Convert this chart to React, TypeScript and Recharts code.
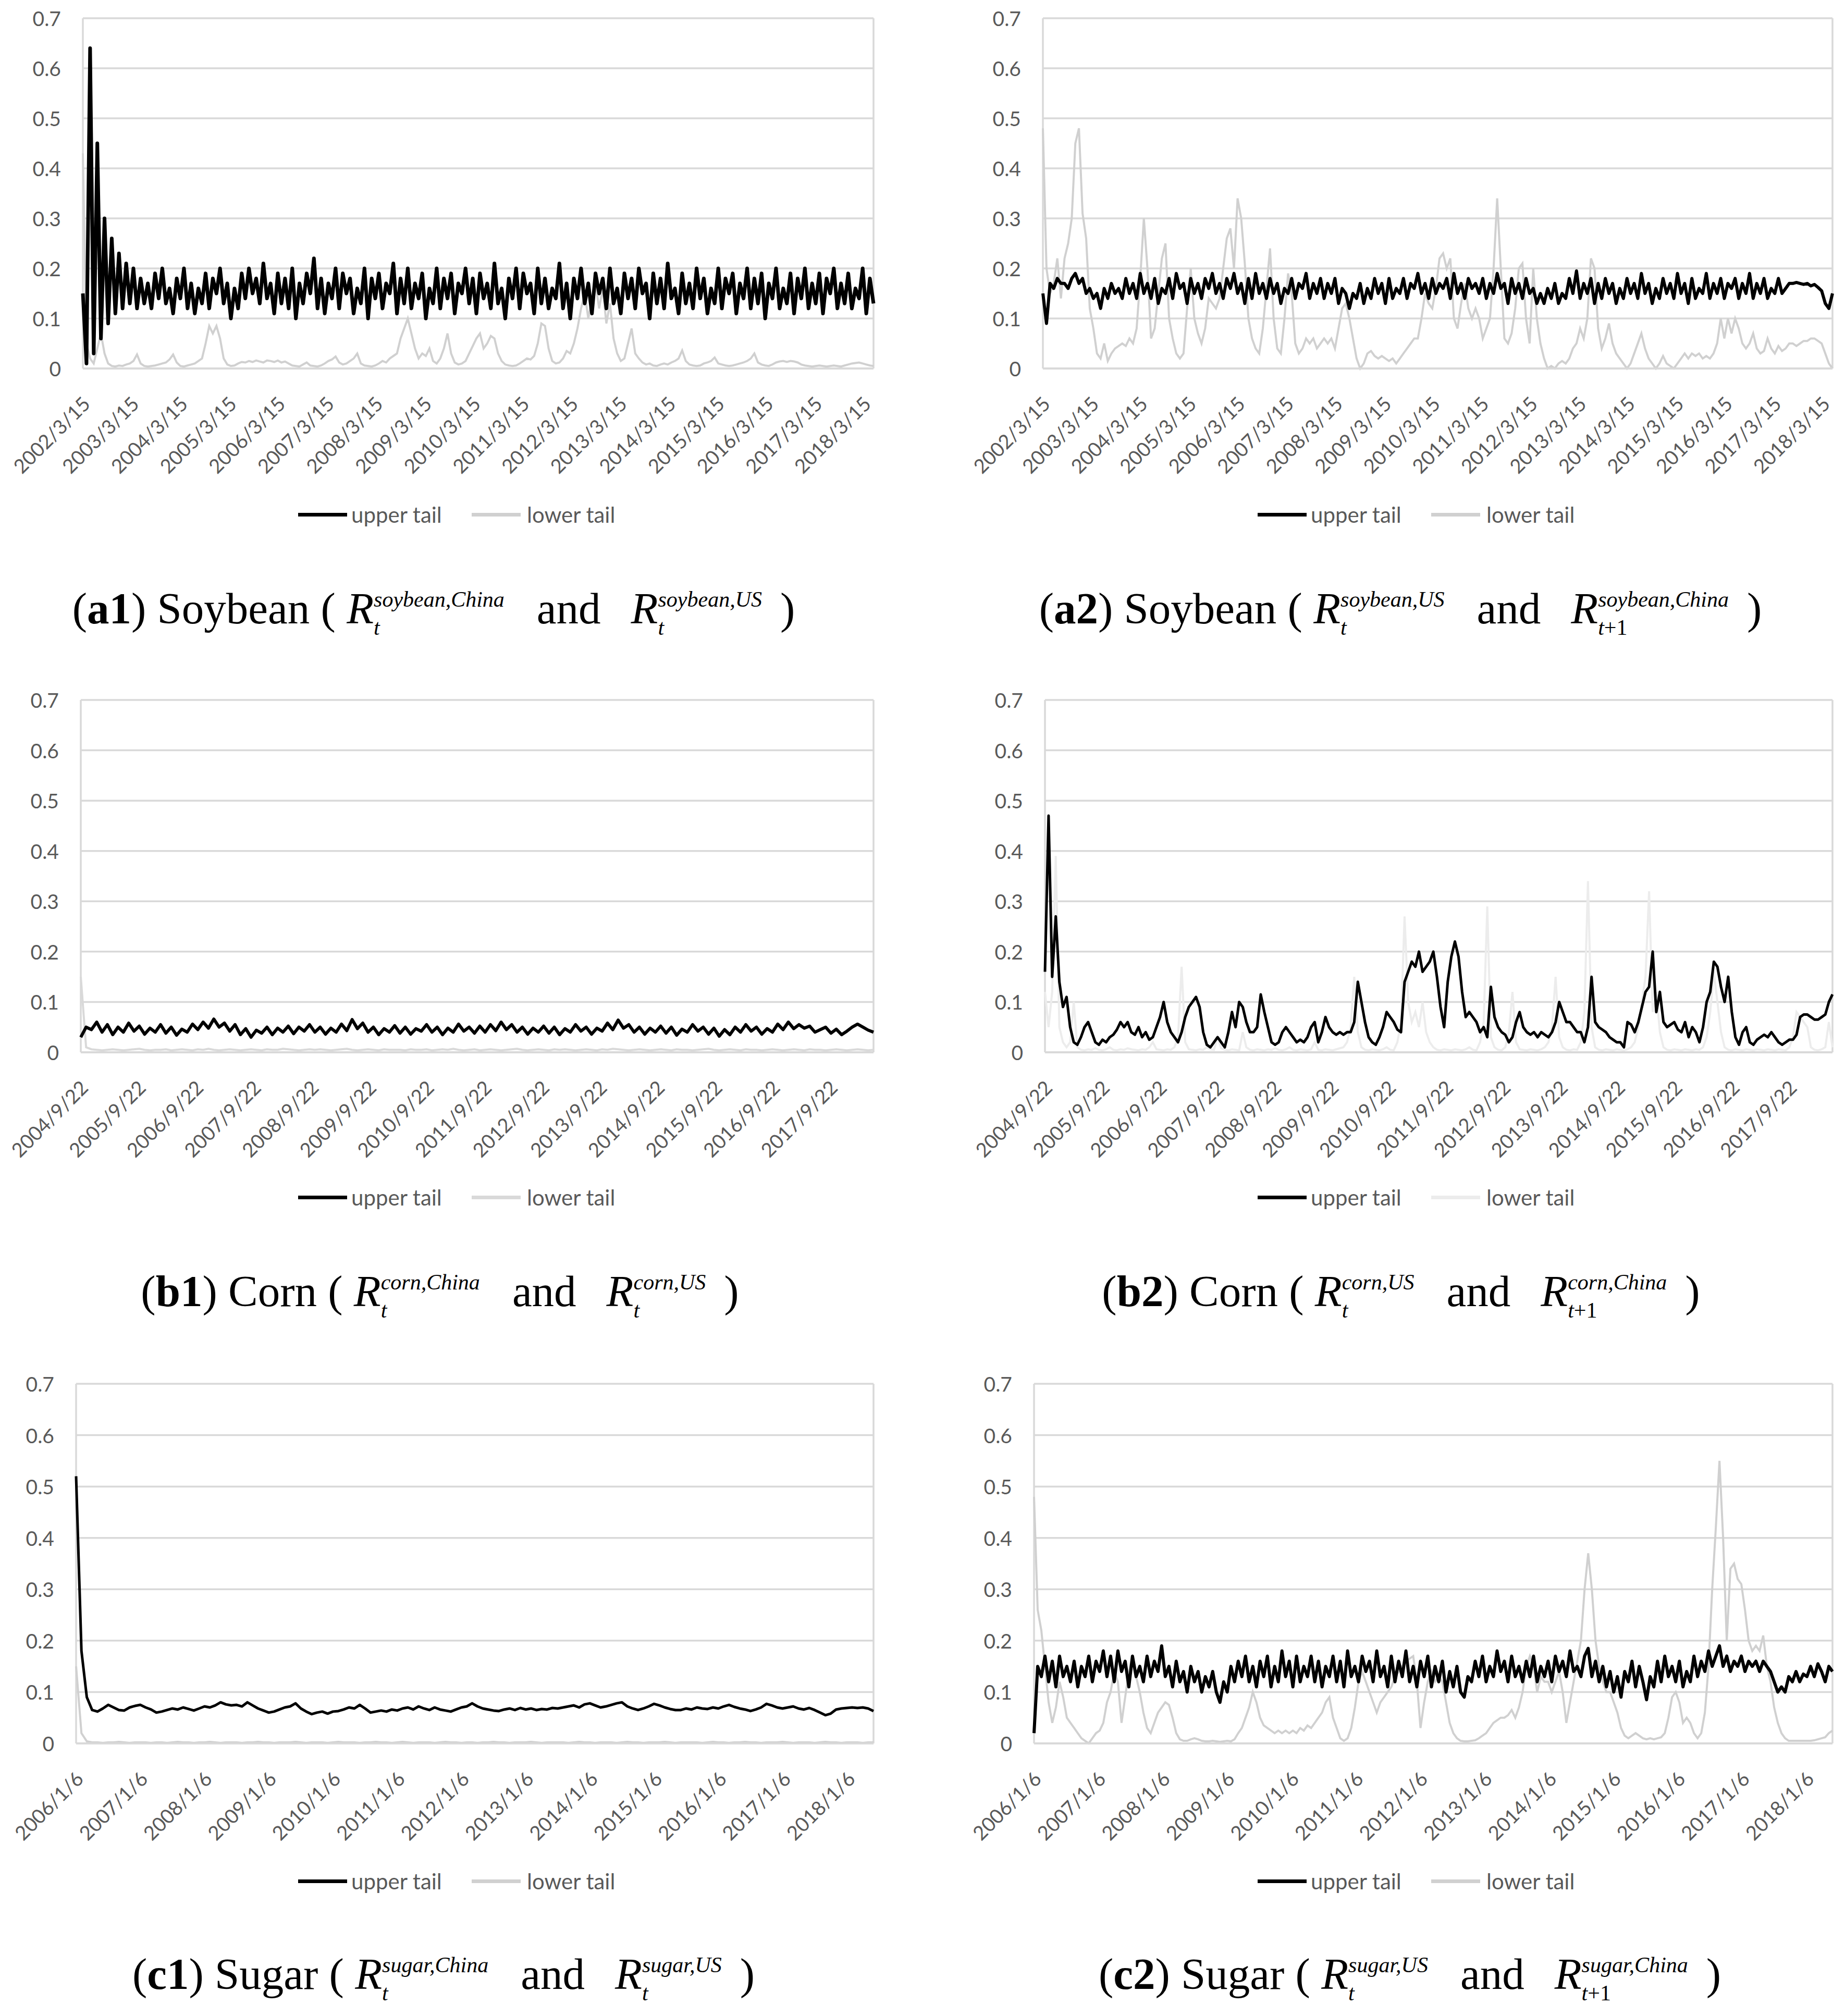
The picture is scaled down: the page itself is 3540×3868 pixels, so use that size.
import { LineChart, Line, XAxis, YAxis, CartesianGrid } from 'recharts'
import type { ReactNode } from 'react'

/* Six tail-dependence panels (upper / lower tail), China vs US futures.
   Values read off the reference by eye, sampled evenly along each date axis. */

const A_DATES = [
  '2002/3/15', '2003/3/15', '2004/3/15', '2005/3/15', '2006/3/15', '2007/3/15',
  '2008/3/15', '2009/3/15', '2010/3/15', '2011/3/15', '2012/3/15', '2013/3/15',
  '2014/3/15', '2015/3/15', '2016/3/15', '2017/3/15', '2018/3/15',
]
const B_DATES = [
  '2004/9/22', '2005/9/22', '2006/9/22', '2007/9/22', '2008/9/22', '2009/9/22', '2010/9/22',
  '2011/9/22', '2012/9/22', '2013/9/22', '2014/9/22', '2015/9/22', '2016/9/22', '2017/9/22',
]
const C_DATES = [
  '2006/1/6', '2007/1/6', '2008/1/6', '2009/1/6', '2010/1/6', '2011/1/6', '2012/1/6',
  '2013/1/6', '2014/1/6', '2015/1/6', '2016/1/6', '2017/1/6', '2018/1/6',
]
// years covered by each row's sample (first label sits at the left edge)
const A_SPAN = 16.2
const B_SPAN = 13.75
const C_SPAN = 12.4

const Y_TICKS = [0, 0.1, 0.2, 0.3, 0.4, 0.5, 0.6, 0.7]
const SERIES_NAMES = ['upper tail', 'lower tail']

// (a1) soybean China -> US
const A1_UPPER = [
  0.15, 0.01, 0.64, 0.03, 0.45, 0.06, 0.3, 0.09, 0.26, 0.11, 0.23, 0.12, 0.21, 0.13, 0.2, 0.12,
  0.18, 0.13, 0.17, 0.12, 0.19, 0.14, 0.2, 0.13, 0.16, 0.11, 0.18, 0.14, 0.2, 0.12, 0.17,
  0.11, 0.16, 0.13, 0.19, 0.12, 0.18, 0.15, 0.2, 0.13, 0.17, 0.1, 0.16, 0.12, 0.19, 0.14,
  0.2, 0.15, 0.18, 0.13, 0.21, 0.14, 0.17, 0.11, 0.19, 0.13, 0.18, 0.12, 0.2, 0.1, 0.17,
  0.13, 0.19, 0.15, 0.22, 0.12, 0.18, 0.11, 0.17, 0.14, 0.2, 0.12, 0.19, 0.15, 0.18, 0.11,
  0.16, 0.13, 0.2, 0.1, 0.18, 0.14, 0.19, 0.12, 0.17, 0.15, 0.21, 0.11, 0.18, 0.13, 0.2,
  0.12, 0.17, 0.14, 0.19, 0.1, 0.16, 0.13, 0.2, 0.12, 0.18, 0.14, 0.19, 0.11, 0.17, 0.15,
  0.2, 0.13, 0.18, 0.11, 0.19, 0.14, 0.17, 0.12, 0.21, 0.13, 0.16, 0.1, 0.18, 0.14, 0.2,
  0.12, 0.19, 0.15, 0.17, 0.11, 0.2, 0.13, 0.18, 0.12, 0.16, 0.14, 0.21, 0.12, 0.17, 0.1,
  0.18, 0.14, 0.2, 0.13, 0.17, 0.11, 0.19, 0.15, 0.18, 0.12, 0.2, 0.13, 0.16, 0.11, 0.19,
  0.14, 0.18, 0.12, 0.2, 0.15, 0.17, 0.1, 0.19, 0.13, 0.18, 0.12, 0.21, 0.14, 0.16, 0.11,
  0.19, 0.13, 0.17, 0.12, 0.2, 0.14, 0.18, 0.11, 0.16, 0.13, 0.2, 0.12, 0.18, 0.15, 0.19,
  0.11, 0.17, 0.14, 0.2, 0.12, 0.18, 0.13, 0.19, 0.1, 0.17, 0.14, 0.2, 0.12, 0.16, 0.13,
  0.19, 0.11, 0.18, 0.14, 0.2, 0.12, 0.17, 0.13, 0.19, 0.11, 0.18, 0.15, 0.2, 0.12, 0.17,
  0.13, 0.19, 0.12, 0.16, 0.14, 0.2, 0.11, 0.18, 0.13,
]
const A1_LOWER = [
  0.43, 0.05, 0.02, 0.01, 0.04, 0.07, 0.03, 0.01, 0.005, 0.004, 0.006, 0.005, 0.008, 0.01,
  0.015, 0.028, 0.01, 0.005, 0.004, 0.005, 0.006, 0.008, 0.01, 0.012, 0.018, 0.028, 0.012,
  0.005, 0.004, 0.006, 0.008, 0.01, 0.015, 0.02, 0.05, 0.085, 0.07, 0.085, 0.06, 0.02,
  0.008, 0.005, 0.006, 0.01, 0.013, 0.012, 0.015, 0.013, 0.016, 0.014, 0.012, 0.016, 0.015,
  0.013, 0.016, 0.012, 0.014, 0.01, 0.006, 0.005, 0.004, 0.008, 0.012, 0.006, 0.005, 0.004,
  0.006, 0.01, 0.015, 0.018, 0.024, 0.012, 0.008, 0.01, 0.015, 0.02, 0.03, 0.01, 0.006,
  0.005, 0.004, 0.006, 0.01, 0.015, 0.012, 0.02, 0.025, 0.03, 0.06, 0.08, 0.1, 0.07, 0.04,
  0.02, 0.03, 0.025, 0.04, 0.015, 0.01, 0.02, 0.04, 0.07, 0.03, 0.012, 0.008, 0.01, 0.015,
  0.03, 0.045, 0.06, 0.07, 0.04, 0.05, 0.065, 0.06, 0.03, 0.015, 0.008, 0.006, 0.005, 0.006,
  0.01, 0.015, 0.02, 0.018, 0.025, 0.05, 0.09, 0.085, 0.04, 0.015, 0.01, 0.012, 0.02, 0.035,
  0.03, 0.05, 0.08, 0.12, 0.15, 0.1, 0.14, 0.17, 0.12, 0.16, 0.09, 0.13, 0.06, 0.03, 0.015,
  0.02, 0.05, 0.08, 0.03, 0.02, 0.012, 0.008, 0.01, 0.006, 0.005, 0.008, 0.01, 0.008, 0.012,
  0.015, 0.02, 0.036, 0.015, 0.008, 0.006, 0.005, 0.006, 0.01, 0.012, 0.015, 0.022, 0.01,
  0.008, 0.006, 0.005, 0.006, 0.008, 0.01, 0.012, 0.015, 0.02, 0.03, 0.012, 0.008, 0.006,
  0.005, 0.008, 0.012, 0.014, 0.015, 0.013, 0.015, 0.014, 0.012, 0.008, 0.006, 0.005, 0.004,
  0.005, 0.006, 0.005, 0.004, 0.005, 0.006, 0.005, 0.004, 0.006, 0.008, 0.01, 0.011, 0.012,
  0.01, 0.008, 0.006, 0.005,
]

// (a2) soybean US -> China (t+1)
const A2_UPPER = [
  0.15, 0.09,
  0.17, 0.16, 0.18, 0.17, 0.17, 0.16, 0.18, 0.19, 0.17, 0.18, 0.15, 0.16, 0.14, 0.15, 0.12, 0.16,
  0.14, 0.17, 0.15, 0.16, 0.14, 0.18, 0.15, 0.17, 0.14, 0.19, 0.15, 0.17, 0.14, 0.18, 0.13,
  0.16, 0.15, 0.18, 0.14, 0.19, 0.16, 0.17, 0.13, 0.18, 0.15, 0.17, 0.14, 0.18, 0.16, 0.19,
  0.15, 0.17, 0.14, 0.18, 0.16, 0.19, 0.15, 0.17, 0.13, 0.18, 0.14, 0.19, 0.15, 0.17, 0.14,
  0.18, 0.15, 0.17, 0.13, 0.16, 0.15, 0.18, 0.14, 0.17, 0.16, 0.19, 0.14, 0.17, 0.15, 0.18,
  0.14, 0.17, 0.15, 0.18, 0.13, 0.16, 0.15, 0.12, 0.15, 0.14, 0.17, 0.13, 0.16, 0.14, 0.18,
  0.15, 0.17, 0.13, 0.18, 0.14, 0.16, 0.15, 0.18, 0.14, 0.17, 0.16, 0.19, 0.15, 0.17, 0.14,
  0.18, 0.15, 0.17, 0.16, 0.18, 0.14, 0.19, 0.15, 0.17, 0.14, 0.18, 0.16, 0.17, 0.15, 0.18,
  0.14, 0.17, 0.15, 0.19, 0.16, 0.17, 0.13, 0.18, 0.15, 0.17, 0.14, 0.18, 0.15, 0.16, 0.13,
  0.15, 0.13, 0.16, 0.14, 0.17, 0.13, 0.15, 0.14, 0.18, 0.15, 0.195, 0.14, 0.17, 0.15, 0.18,
  0.13, 0.17, 0.14, 0.18, 0.15, 0.17, 0.13, 0.16, 0.14, 0.18, 0.15, 0.17, 0.14, 0.19, 0.15,
  0.17, 0.13, 0.16, 0.14, 0.18, 0.15, 0.17, 0.14, 0.19, 0.15, 0.17, 0.13, 0.18, 0.14, 0.16,
  0.15, 0.19, 0.14, 0.17, 0.15, 0.18, 0.14, 0.17, 0.16, 0.18, 0.14, 0.17, 0.15, 0.19, 0.14,
  0.17, 0.15, 0.18, 0.14, 0.16, 0.15, 0.18, 0.15, 0.16,
  0.17, 0.17, 0.172, 0.17, 0.168, 0.17, 0.165, 0.168, 0.162, 0.155, 0.13, 0.12, 0.15,
]
const A2_LOWER = [
  0.48, 0.2, 0.15, 0.17, 0.22, 0.14, 0.22, 0.25, 0.3, 0.45, 0.48, 0.31, 0.26, 0.12, 0.08, 0.03,
  0.02, 0.05, 0.015, 0.03, 0.04, 0.045, 0.05, 0.045, 0.06, 0.05, 0.08, 0.18, 0.3, 0.2, 0.06, 0.08,
  0.15, 0.22, 0.25, 0.1, 0.06, 0.03, 0.02, 0.03, 0.12, 0.2, 0.1, 0.07, 0.05, 0.08, 0.14, 0.13,
  0.12, 0.14, 0.2, 0.26, 0.28, 0.2, 0.34, 0.3, 0.21, 0.1, 0.06, 0.04, 0.03, 0.08, 0.16, 0.24,
  0.1, 0.04, 0.03, 0.1, 0.19, 0.15, 0.05, 0.03, 0.04, 0.06, 0.05, 0.06, 0.04, 0.05, 0.06, 0.05,
  0.06, 0.04, 0.08, 0.12, 0.13, 0.1, 0.06, 0.02, 0.0, 0.01, 0.03, 0.035, 0.025, 0.02, 0.025, 0.02,
  0.015, 0.02, 0.01, 0.02, 0.03, 0.04, 0.05, 0.06, 0.06, 0.1, 0.15, 0.13, 0.12, 0.16, 0.22, 0.23,
  0.2, 0.22, 0.1, 0.08, 0.13, 0.17, 0.12, 0.1, 0.12, 0.1, 0.06, 0.08, 0.1, 0.2, 0.34, 0.2,
  0.06, 0.05, 0.07, 0.12, 0.2, 0.21, 0.1, 0.05, 0.2, 0.1, 0.05, 0.02, 0.0, 0.005, 0.0, 0.01,
  0.015, 0.01, 0.02, 0.04, 0.05, 0.08, 0.06, 0.1, 0.22, 0.2, 0.08, 0.04, 0.06, 0.09, 0.05, 0.03,
  0.02, 0.01, 0.0, 0.01, 0.03, 0.05, 0.07, 0.04, 0.02, 0.01, 0.0, 0.01, 0.025, 0.01, 0.005, 0.0,
  0.01, 0.02, 0.03, 0.02, 0.03, 0.025, 0.03, 0.02, 0.025, 0.02, 0.03, 0.05, 0.1, 0.06, 0.1, 0.07,
  0.1, 0.08, 0.05, 0.04, 0.05, 0.07, 0.04, 0.03, 0.035, 0.06, 0.04, 0.03, 0.045, 0.035, 0.04, 0.05,
  0.05, 0.045, 0.05, 0.055, 0.055, 0.06, 0.06, 0.055, 0.05, 0.03, 0.01, 0.0,
]

// (b1) corn China -> US
const B1_UPPER = [
  0.03, 0.05, 0.045, 0.06, 0.04, 0.055, 0.035, 0.05, 0.04, 0.058, 0.042, 0.052, 0.036, 0.048, 0.04,
  0.055, 0.038, 0.05, 0.034, 0.046, 0.04, 0.056, 0.045, 0.06, 0.048, 0.066, 0.05, 0.058, 0.042, 0.055,
  0.035, 0.047, 0.03, 0.044, 0.038, 0.05, 0.035, 0.048, 0.04, 0.052, 0.037, 0.05, 0.042, 0.055, 0.04,
  0.05, 0.036, 0.048, 0.04, 0.056, 0.043, 0.065, 0.047, 0.058, 0.04, 0.05, 0.035, 0.047, 0.04, 0.053,
  0.038, 0.05, 0.036, 0.047, 0.042, 0.055, 0.04, 0.05, 0.035, 0.048, 0.04, 0.056, 0.042, 0.05, 0.038,
  0.052, 0.04, 0.055, 0.043, 0.06, 0.045, 0.055, 0.04, 0.05, 0.036, 0.048, 0.04, 0.052, 0.038, 0.05,
  0.035, 0.047, 0.04, 0.055, 0.042, 0.05, 0.036, 0.048, 0.042, 0.058, 0.045, 0.064, 0.048, 0.055, 0.04,
  0.05, 0.036, 0.048, 0.04, 0.052, 0.038, 0.05, 0.034, 0.046, 0.04, 0.055, 0.042, 0.05, 0.036, 0.048,
  0.032, 0.045, 0.035, 0.05, 0.04, 0.055, 0.042, 0.05, 0.036, 0.047, 0.04, 0.056, 0.045, 0.06, 0.047,
  0.055, 0.048, 0.052, 0.04, 0.045, 0.05, 0.038, 0.046, 0.035, 0.042, 0.05, 0.056, 0.05, 0.044, 0.04,
]
const B1_LOWER = [
  0.15, 0.01, 0.006, 0.005, 0.004, 0.005, 0.006, 0.005, 0.004, 0.005, 0.006, 0.007, 0.005, 0.004, 0.005,
  0.005, 0.006, 0.004, 0.005, 0.006, 0.005, 0.004, 0.006, 0.005, 0.007, 0.005, 0.004, 0.005, 0.006, 0.005,
  0.004, 0.005, 0.006, 0.005, 0.004, 0.006, 0.005, 0.005, 0.007, 0.006, 0.005, 0.004, 0.005, 0.006, 0.005,
  0.006, 0.005, 0.004, 0.005, 0.006, 0.007, 0.005, 0.004, 0.005, 0.006, 0.005, 0.004, 0.006, 0.005, 0.005,
  0.005, 0.004, 0.006, 0.005, 0.005, 0.006, 0.004, 0.005, 0.006, 0.005, 0.007, 0.005, 0.004, 0.005, 0.006,
  0.004, 0.005, 0.006, 0.005, 0.004, 0.005, 0.006, 0.007, 0.005, 0.004, 0.005, 0.006, 0.005, 0.004, 0.006,
  0.005, 0.006, 0.005, 0.004, 0.005, 0.006, 0.005, 0.004, 0.006, 0.005, 0.007, 0.006, 0.005, 0.004, 0.005,
  0.006, 0.005, 0.004, 0.005, 0.006, 0.005, 0.004, 0.006, 0.005, 0.005, 0.004, 0.005, 0.006, 0.007, 0.005,
  0.004, 0.005, 0.006, 0.005, 0.004, 0.006, 0.005, 0.005, 0.004, 0.005, 0.006, 0.005, 0.004, 0.005, 0.006,
  0.005, 0.004, 0.006, 0.005, 0.005, 0.004, 0.005, 0.006, 0.005, 0.004, 0.005, 0.006, 0.005, 0.004, 0.005,
]

// (b2) corn US -> China (t+1)
const B2_UPPER = [
  0.16, 0.47, 0.15, 0.27, 0.14, 0.09, 0.11, 0.05, 0.02, 0.015, 0.03, 0.05, 0.06, 0.04, 0.02, 0.015,
  0.025, 0.02, 0.03, 0.035, 0.045, 0.06, 0.05, 0.06, 0.04, 0.035, 0.05, 0.03, 0.04, 0.025, 0.03, 0.05,
  0.07, 0.1, 0.06, 0.04, 0.03, 0.02, 0.04, 0.07, 0.09, 0.1, 0.11, 0.09, 0.04, 0.015, 0.01, 0.02,
  0.03, 0.02, 0.01, 0.04, 0.08, 0.05, 0.1, 0.09, 0.06, 0.04, 0.04, 0.05, 0.115, 0.08, 0.05, 0.02,
  0.015, 0.02, 0.04, 0.05, 0.04, 0.03, 0.02, 0.025, 0.02, 0.03, 0.05, 0.06, 0.02, 0.04, 0.07, 0.05,
  0.04, 0.035, 0.04, 0.035, 0.04, 0.04, 0.06, 0.14, 0.1, 0.06, 0.03, 0.02, 0.015, 0.03, 0.05, 0.08,
  0.07, 0.06, 0.045, 0.04, 0.14, 0.16, 0.18, 0.17, 0.2, 0.16, 0.17, 0.18, 0.2, 0.15, 0.09, 0.05,
  0.14, 0.19, 0.22, 0.19, 0.12, 0.07, 0.08, 0.07, 0.06, 0.04, 0.05, 0.03, 0.13, 0.07, 0.05, 0.04,
  0.035, 0.02, 0.03, 0.06, 0.08, 0.05, 0.04, 0.035, 0.04, 0.03, 0.04, 0.035, 0.03, 0.04, 0.06, 0.1,
  0.08, 0.06, 0.06, 0.05, 0.04, 0.04, 0.02, 0.05, 0.15, 0.06, 0.05, 0.045, 0.04, 0.03, 0.025, 0.02,
  0.02, 0.01, 0.06, 0.055, 0.04, 0.06, 0.09, 0.12, 0.13, 0.2, 0.08, 0.12, 0.06, 0.05, 0.055, 0.06,
  0.045, 0.04, 0.06, 0.03, 0.05, 0.04, 0.02, 0.05, 0.1, 0.12, 0.18, 0.17, 0.13, 0.1, 0.15, 0.08,
  0.03, 0.015, 0.04, 0.05, 0.02, 0.015, 0.025, 0.03, 0.035, 0.03, 0.04, 0.03, 0.02, 0.015, 0.02, 0.025,
  0.025, 0.035, 0.07, 0.075, 0.075, 0.07, 0.065, 0.065, 0.07, 0.075, 0.1, 0.115,
]
const B2_LOWER = [
  0.12, 0.05, 0.12, 0.39, 0.05, 0.02, 0.01, 0.02, 0.1, 0.01,
  0.005, 0.004, 0.006, 0.005, 0.008, 0.005, 0.004, 0.006, 0.01, 0.005, 0.004, 0.006, 0.005, 0.008, 0.006,
  0.005, 0.004, 0.006, 0.005, 0.01, 0.02, 0.006, 0.005, 0.004, 0.006, 0.005, 0.01, 0.03,
  0.17, 0.02,
  0.006, 0.005, 0.004, 0.006, 0.005, 0.01, 0.006, 0.005, 0.03, 0.008, 0.005, 0.004, 0.006, 0.005, 0.004,
  0.04, 0.01, 0.005, 0.004, 0.006, 0.005, 0.004, 0.006, 0.005, 0.008, 0.005, 0.004, 0.006, 0.01, 0.005,
  0.004, 0.006, 0.005, 0.004, 0.006, 0.02, 0.005, 0.004, 0.006, 0.005, 0.004, 0.006, 0.008, 0.01, 0.02, 0.05,
  0.15, 0.04,
  0.01, 0.005, 0.004, 0.006, 0.005, 0.004, 0.006, 0.01, 0.005, 0.004, 0.02, 0.06,
  0.27, 0.1, 0.06, 0.08, 0.05, 0.1, 0.04, 0.02,
  0.01, 0.005, 0.004, 0.006, 0.005, 0.004, 0.006, 0.005, 0.004, 0.006, 0.01, 0.005, 0.004, 0.02, 0.06,
  0.29, 0.03,
  0.01, 0.005, 0.004, 0.01, 0.04,
  0.12, 0.02,
  0.006, 0.005, 0.004, 0.006, 0.005, 0.004, 0.006, 0.01, 0.02, 0.05,
  0.15, 0.03,
  0.01, 0.005, 0.004, 0.006, 0.005, 0.02, 0.08,
  0.34, 0.05,
  0.01, 0.005, 0.004, 0.006, 0.005, 0.004, 0.006, 0.005, 0.004, 0.006, 0.01, 0.02, 0.05,
  0.1, 0.15, 0.32, 0.08, 0.12, 0.04,
  0.01, 0.005, 0.004, 0.006, 0.005, 0.004, 0.006, 0.005, 0.004, 0.006, 0.005, 0.01, 0.03, 0.08,
  0.16, 0.1, 0.04,
  0.01, 0.005, 0.004, 0.006, 0.005, 0.004, 0.006, 0.005, 0.004, 0.006, 0.005, 0.004, 0.006, 0.005,
  0.004, 0.006, 0.005, 0.004, 0.01, 0.03,
  0.08, 0.07, 0.06, 0.05, 0.01,
  0.005, 0.004, 0.006, 0.01,
  0.06, 0.01,
]

// (c1) sugar China -> US
const C1_UPPER = [
  0.52, 0.18, 0.09, 0.065,
  0.062, 0.068, 0.075, 0.07, 0.065, 0.064, 0.07, 0.073, 0.075, 0.07, 0.066, 0.06,
  0.062, 0.065, 0.068, 0.066, 0.07, 0.067, 0.064, 0.068, 0.072, 0.07, 0.074, 0.08, 0.076, 0.074,
  0.075, 0.072, 0.08, 0.074, 0.068, 0.064, 0.06, 0.062, 0.066, 0.07, 0.072, 0.078, 0.068, 0.062, 0.057,
  0.06, 0.062, 0.058, 0.062, 0.063, 0.066, 0.07, 0.068, 0.075, 0.068, 0.06, 0.062, 0.064, 0.062, 0.066,
  0.064, 0.068, 0.07, 0.066, 0.072, 0.068, 0.065, 0.07, 0.066, 0.064, 0.062, 0.066, 0.07, 0.072, 0.078,
  0.072, 0.068, 0.066, 0.064, 0.063, 0.066, 0.068, 0.065, 0.069, 0.066, 0.068, 0.065, 0.067, 0.066, 0.069,
  0.068, 0.07, 0.072, 0.074, 0.07, 0.076, 0.078, 0.074, 0.07, 0.072, 0.075, 0.078, 0.08, 0.072, 0.068,
  0.065, 0.068, 0.072, 0.077, 0.074, 0.07, 0.067, 0.065, 0.065, 0.068, 0.066, 0.07, 0.068, 0.067, 0.07,
  0.068, 0.072, 0.075, 0.071, 0.068, 0.066, 0.063, 0.066, 0.07, 0.077, 0.074, 0.07, 0.068, 0.07, 0.072,
  0.068, 0.066, 0.069, 0.065, 0.06, 0.055, 0.058, 0.066, 0.068, 0.069, 0.07, 0.069, 0.07, 0.068, 0.063,
]
const C1_LOWER = [
  0.15, 0.02, 0.004, 0.002, 0.002, 0.001, 0.002, 0.002, 0.003, 0.002, 0.001, 0.002, 0.002, 0.002, 0.001,
  0.002, 0.002, 0.001, 0.002, 0.003, 0.002, 0.002, 0.001, 0.002, 0.002, 0.003, 0.002, 0.001, 0.002, 0.002,
  0.002, 0.001, 0.002, 0.002, 0.003, 0.002, 0.002, 0.001, 0.002, 0.002, 0.002, 0.003, 0.002, 0.001, 0.002,
  0.002, 0.002, 0.001, 0.002, 0.003, 0.002, 0.002, 0.002, 0.001, 0.002, 0.002, 0.003, 0.002, 0.002, 0.001,
  0.002, 0.003, 0.002, 0.001, 0.002, 0.002, 0.002, 0.001, 0.002, 0.003, 0.002, 0.002, 0.001, 0.002, 0.002,
  0.001, 0.002, 0.002, 0.003, 0.002, 0.002, 0.001, 0.002, 0.002, 0.002, 0.003, 0.002, 0.001, 0.002, 0.002,
  0.002, 0.002, 0.001, 0.002, 0.003, 0.002, 0.002, 0.001, 0.002, 0.002, 0.002, 0.001, 0.002, 0.003, 0.002,
  0.002, 0.001, 0.002, 0.002, 0.002, 0.003, 0.002, 0.001, 0.002, 0.002, 0.002, 0.002, 0.001, 0.002, 0.003,
  0.002, 0.002, 0.001, 0.002, 0.002, 0.003, 0.002, 0.002, 0.001, 0.002, 0.002, 0.002, 0.003, 0.002, 0.001,
  0.002, 0.002, 0.002, 0.001, 0.002, 0.003, 0.002, 0.002, 0.001, 0.002, 0.002, 0.002, 0.001, 0.002, 0.002,
]

// (c2) sugar US -> China (t+1)
const C2_UPPER = [
  0.02, 0.15,
  0.13, 0.17, 0.12, 0.16, 0.11, 0.17, 0.13, 0.15, 0.12, 0.16, 0.11, 0.15, 0.13, 0.17, 0.12,
  0.16, 0.14, 0.18, 0.13, 0.17, 0.12, 0.18, 0.14, 0.16, 0.11, 0.17, 0.13, 0.15, 0.12, 0.17,
  0.13, 0.16, 0.14, 0.19, 0.13, 0.15, 0.11, 0.16, 0.12, 0.14, 0.1, 0.15, 0.12, 0.14, 0.1,
  0.13, 0.11, 0.14, 0.1, 0.08, 0.12, 0.1, 0.15, 0.12, 0.16, 0.13, 0.17, 0.12, 0.15, 0.11,
  0.16, 0.13, 0.17, 0.11, 0.15, 0.12, 0.18, 0.13, 0.16, 0.11, 0.17, 0.12, 0.15, 0.13, 0.17,
  0.12, 0.16, 0.11, 0.15, 0.13, 0.17, 0.12, 0.16, 0.11, 0.18, 0.13, 0.15, 0.12, 0.17, 0.14,
  0.16, 0.12, 0.18, 0.13, 0.15, 0.11, 0.17, 0.12, 0.16, 0.13, 0.18, 0.12, 0.15, 0.11, 0.16,
  0.13, 0.17, 0.11, 0.15, 0.12, 0.16, 0.1, 0.14, 0.11, 0.15, 0.1, 0.09, 0.13, 0.12, 0.16,
  0.13, 0.17, 0.12, 0.15, 0.13, 0.18, 0.14, 0.16, 0.12, 0.17, 0.13, 0.15, 0.12, 0.16, 0.13,
  0.17, 0.12, 0.15, 0.13, 0.16, 0.12, 0.17, 0.14, 0.16, 0.13, 0.18, 0.14, 0.15, 0.13, 0.17,
  0.185, 0.13, 0.16, 0.12, 0.15, 0.11, 0.14, 0.1, 0.13, 0.09, 0.14, 0.12, 0.16, 0.11, 0.15,
  0.12, 0.085, 0.13, 0.11, 0.16, 0.12, 0.17, 0.13, 0.15, 0.12, 0.16, 0.11, 0.14, 0.12, 0.17,
  0.13, 0.16, 0.14, 0.18, 0.15, 0.17, 0.19, 0.15, 0.17, 0.14, 0.16, 0.15, 0.17, 0.14, 0.16,
  0.15, 0.16, 0.14, 0.16, 0.15, 0.14, 0.12, 0.1, 0.11, 0.1,
  0.13, 0.12, 0.14, 0.12, 0.135, 0.13, 0.15, 0.13, 0.155, 0.14, 0.12, 0.15, 0.14,
]
const C2_LOWER = [
  0.48, 0.26, 0.22, 0.15, 0.08, 0.04, 0.07, 0.12, 0.09, 0.05, 0.04, 0.03, 0.02, 0.01, 0.005, 0.0,
  0.01, 0.02, 0.025, 0.04, 0.08, 0.1, 0.14, 0.12, 0.04, 0.09, 0.14, 0.17, 0.13, 0.1, 0.06, 0.03,
  0.02, 0.04, 0.06, 0.07, 0.08, 0.075, 0.05, 0.02, 0.008, 0.005, 0.005, 0.008, 0.01, 0.008, 0.005, 0.004,
  0.004, 0.005, 0.004, 0.003, 0.004, 0.005, 0.004, 0.008,
  0.02, 0.03, 0.05, 0.07, 0.1, 0.08, 0.05, 0.035, 0.03, 0.025, 0.02, 0.025, 0.02, 0.025, 0.02, 0.025,
  0.02, 0.03, 0.025, 0.035, 0.03, 0.04, 0.05, 0.06, 0.08, 0.09, 0.05, 0.03, 0.01, 0.005, 0.01, 0.03,
  0.07, 0.12, 0.14, 0.12, 0.1, 0.08, 0.06, 0.08, 0.09, 0.1, 0.11, 0.13, 0.14, 0.15, 0.16, 0.165,
  0.17, 0.12, 0.03, 0.08, 0.12, 0.14, 0.12, 0.13, 0.12, 0.08, 0.04, 0.02, 0.01, 0.005, 0.004, 0.004,
  0.005, 0.006, 0.01, 0.015, 0.02, 0.03, 0.04, 0.045, 0.05, 0.05, 0.055, 0.065, 0.05, 0.07, 0.1, 0.15,
  0.17, 0.15, 0.1, 0.13, 0.12, 0.12, 0.1, 0.12, 0.14, 0.1, 0.04, 0.08, 0.12, 0.16, 0.2, 0.3,
  0.37, 0.3, 0.2, 0.15, 0.12, 0.1, 0.1, 0.08, 0.06, 0.03, 0.015, 0.01, 0.015, 0.02, 0.015, 0.01,
  0.008, 0.01, 0.008, 0.01, 0.012, 0.02, 0.05, 0.09, 0.1, 0.08, 0.04, 0.05, 0.04, 0.02, 0.01, 0.02,
  0.06, 0.15, 0.3, 0.42, 0.55, 0.4, 0.2, 0.34, 0.35, 0.32, 0.31, 0.26, 0.2, 0.18, 0.19, 0.18,
  0.21, 0.15, 0.12, 0.07, 0.04, 0.02, 0.01, 0.005, 0.005, 0.005, 0.005, 0.005, 0.005, 0.005, 0.006,
  0.008, 0.01, 0.012, 0.02, 0.025,
]

const AXIS_FONT = 'Lato, "Open Sans", "Liberation Sans", sans-serif'
const CAPTION_FONT = '"Palatino Linotype", "Book Antiqua", Palatino, "Liberation Serif", serif'
const MATH_FONT = '"Liberation Serif", "Times New Roman", serif'
const TEXT_GREY = '#595959'
const GRID_GREY = '#d9d9d9'

type Row = { x: number; upper: number; lower: number }

// evenly spaced sample dates, in years from the first axis label
const toRows = (upper: number[], lower: number[], span: number): Row[] =>
  upper.map((u, i) => ({ x: (i * span) / (upper.length - 1), upper: u, lower: lower[i] }))

type PanelProps = {
  left: number
  top: number
  plotLeft: number
  plotRight: number
  plotTop: number
  plotBottom: number
  upper: number[]
  lower: number[]
  span: number
  dates: string[]
  lowerColor: string
  upperWidth: number
}

const CHART_W = 1770
const CHART_H = 1000

function Panel(p: PanelProps) {
  const data = toRows(p.upper, p.lower, p.span)
  const xTicks = p.dates.map((_, i) => i)
  return (
    <div style={{ position: 'absolute', left: p.left, top: p.top }}>
      <LineChart
        width={CHART_W}
        height={CHART_H}
        data={data}
        margin={{ top: p.plotTop - p.top, right: p.left + CHART_W - p.plotRight, left: 0, bottom: 0 }}
      >
        <CartesianGrid
          stroke={GRID_GREY}
          strokeWidth={3.5}
          verticalPoints={[p.plotLeft - p.left, p.plotRight - p.left]}
        />
        <XAxis
          type="number"
          dataKey="x"
          domain={[0, p.span]}
          ticks={xTicks}
          interval={0}
          height={p.top + CHART_H - p.plotBottom}
          tickSize={0}
          tickMargin={0}
          tickLine={false}
          axisLine={{ stroke: GRID_GREY, strokeWidth: 4 }}
          tick={(t: any) => (
            <text
              transform={`translate(${t.x + 6},${t.y + 60}) rotate(-45)`}
              textAnchor="end"
              dominantBaseline="central"
              fontFamily={AXIS_FONT}
              fontSize={38}
              fill={TEXT_GREY}
            >
              {p.dates[t.payload.value]}
            </text>
          )}
        />
        <YAxis
          domain={[0, 0.7]}
          ticks={Y_TICKS}
          interval={0}
          width={p.plotLeft - p.left}
          tickSize={0}
          tickMargin={0}
          tickLine={false}
          axisLine={false}
          tick={(t: any) => (
            <text
              x={t.x - 42}
              y={t.y}
              textAnchor="end"
              dominantBaseline="central"
              fontFamily={AXIS_FONT}
              fontSize={39}
              fill={TEXT_GREY}
            >
              {String(t.payload.value)}
            </text>
          )}
        />
        <Line
          type="linear"
          dataKey="lower"
          name={SERIES_NAMES[1]}
          stroke={p.lowerColor}
          strokeWidth={4}
          dot={false}
          activeDot={false}
          isAnimationActive={false}
        />
        <Line
          type="linear"
          dataKey="upper"
          name={SERIES_NAMES[0]}
          stroke="#000"
          strokeWidth={p.upperWidth}
          strokeLinejoin="round"
          dot={false}
          activeDot={false}
          isAnimationActive={false}
        />
      </LineChart>
    </div>
  )
}

function TailLegend({ left, cy, lowerColor }: { left: number; cy: number; lowerColor: string }) {
  const swatch = (color: string) => (
    <span style={{ flex: '0 0 auto', width: 94, height: 7, background: color }} />
  )
  return (
    <div
      style={{
        position: 'absolute',
        left,
        top: cy - 30,
        height: 60,
        display: 'flex',
        alignItems: 'center',
        fontFamily: AXIS_FONT,
        fontSize: 42,
        color: TEXT_GREY,
        whiteSpace: 'nowrap',
      }}
    >
      {swatch('#000')}
      <span style={{ flex: '0 0 auto', width: 231, paddingLeft: 8 }}>{SERIES_NAMES[0]}</span>
      {swatch(lowerColor)}
      <span style={{ paddingLeft: 12 }}>{SERIES_NAMES[1]}</span>
    </div>
  )
}

// R with stacked super/subscript, e.g. R_t^{soybean,China}
function Ret({ sup, sub }: { sup: string; sub: string }) {
  const subNode: ReactNode =
    sub === 't+1' ? (
      <>
        t<span style={{ fontStyle: 'normal' }}>+1</span>
      </>
    ) : (
      sub
    )
  return (
    <span style={{ fontFamily: MATH_FONT, fontStyle: 'italic' }}>
      R
      <span
        style={{
          display: 'inline-block',
          verticalAlign: '-22px',
          fontSize: 42,
          lineHeight: '54px',
          textAlign: 'left',
        }}
      >
        <span style={{ display: 'block' }}>{sup}</span>
        <span style={{ display: 'block' }}>{subNode}</span>
      </span>
    </span>
  )
}

type CaptionProps = {
  cx: number
  baseline: number
  tag: string
  crop: string
  sup1: string
  sub1: string
  sup2: string
  sub2: string
}

function Caption(c: CaptionProps) {
  return (
    <div
      style={{
        position: 'absolute',
        left: c.cx - 900,
        top: c.baseline - 73,
        width: 1800,
        textAlign: 'center',
        fontFamily: CAPTION_FONT,
        fontSize: 85,
        lineHeight: '85px',
        whiteSpace: 'nowrap',
        color: '#000',
      }}
    >
      (<b>{c.tag}</b>) {c.crop} ({' '}
      <Ret sup={c.sup1} sub={c.sub1} />
      <span style={{ marginLeft: 62, marginRight: 58 }}>and</span>
      <Ret sup={c.sup2} sub={c.sub2} />
      <span style={{ marginLeft: 35 }}>)</span>
    </div>
  )
}

export default function App() {
  return (
    <div
      style={{
        position: 'relative',
        width: 3540,
        height: 3868,
        margin: -8,
        background: '#fff',
        overflow: 'hidden',
      }}
    >
      <Panel left={0} top={0} plotLeft={159} plotRight={1676} plotTop={35} plotBottom={707}
        upper={A1_UPPER} lower={A1_LOWER} span={A_SPAN} dates={A_DATES} lowerColor="#d0d0d0" upperWidth={7} />
      <Panel left={1770} top={0} plotLeft={2001} plotRight={3516} plotTop={35} plotBottom={707}
        upper={A2_UPPER} lower={A2_LOWER} span={A_SPAN} dates={A_DATES} lowerColor="#d0d0d0" upperWidth={6} />
      <Panel left={0} top={1300} plotLeft={155} plotRight={1676} plotTop={1343} plotBottom={2019}
        upper={B1_UPPER} lower={B1_LOWER} span={B_SPAN} dates={B_DATES} lowerColor="#d9d9d9" upperWidth={6} />
      <Panel left={1770} top={1300} plotLeft={2005} plotRight={3516} plotTop={1343} plotBottom={2019}
        upper={B2_UPPER} lower={B2_LOWER} span={B_SPAN} dates={B_DATES} lowerColor="#ececec" upperWidth={5} />
      <Panel left={0} top={2610} plotLeft={146} plotRight={1676} plotTop={2655} plotBottom={3345}
        upper={C1_UPPER} lower={C1_LOWER} span={C_SPAN} dates={C_DATES} lowerColor="#d0d0d0" upperWidth={5} />
      <Panel left={1770} top={2610} plotLeft={1984} plotRight={3516} plotTop={2655} plotBottom={3345}
        upper={C2_UPPER} lower={C2_LOWER} span={C_SPAN} dates={C_DATES} lowerColor="#d0d0d0" upperWidth={6} />

      <TailLegend left={572} cy={987} lowerColor="#d0d0d0" />
      <TailLegend left={2413} cy={987} lowerColor="#d0d0d0" />
      <TailLegend left={572} cy={2297} lowerColor="#d9d9d9" />
      <TailLegend left={2413} cy={2297} lowerColor="#ececec" />
      <TailLegend left={572} cy={3609} lowerColor="#d0d0d0" />
      <TailLegend left={2413} cy={3609} lowerColor="#d0d0d0" />

      <Caption cx={832} baseline={1196} tag="a1" crop="Soybean"
        sup1="soybean,China" sub1="t" sup2="soybean,US" sub2="t" />
      <Caption cx={2687} baseline={1196} tag="a2" crop="Soybean"
        sup1="soybean,US" sub1="t" sup2="soybean,China" sub2="t+1" />
      <Caption cx={844} baseline={2506} tag="b1" crop="Corn"
        sup1="corn,China" sub1="t" sup2="corn,US" sub2="t" />
      <Caption cx={2688} baseline={2506} tag="b2" crop="Corn"
        sup1="corn,US" sub1="t" sup2="corn,China" sub2="t+1" />
      <Caption cx={851} baseline={3816} tag="c1" crop="Sugar"
        sup1="sugar,China" sub1="t" sup2="sugar,US" sub2="t" />
      <Caption cx={2705} baseline={3816} tag="c2" crop="Sugar"
        sup1="sugar,US" sub1="t" sup2="sugar,China" sub2="t+1" />
    </div>
  )
}
